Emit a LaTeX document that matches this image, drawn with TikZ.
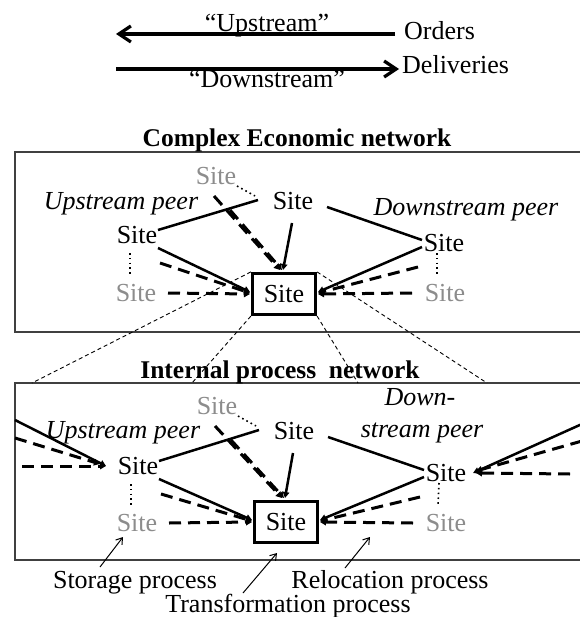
\documentclass[tikz,border=0pt]{standalone}
\usepackage{fontspec}
\setmainfont{Liberation Serif}
\usetikzlibrary{arrows.meta}
\definecolor{ghostgray}{HTML}{8C8C8C}
\definecolor{framegray}{HTML}{404040}

\begin{document}
\begin{tikzpicture}[
    x=1pt, y=-1pt,
    txt/.style={font=\fontsize{26}{28}\selectfont, inner sep=0pt},
    ttl/.style={font=\fontsize{25.5}{28}\selectfont\bfseries, inner sep=0pt},
    peer/.style={font=\fontsize{26}{28}\selectfont\itshape, inner sep=0pt},
    site/.style={font=\fontsize{26}{28}\selectfont, text height=17pt, text depth=0pt, inner sep=1pt},
    ghost/.style={site, text=ghostgray},
    hub/.style={site, draw, line width=3.2pt, minimum width=63pt, minimum height=41pt},
    link/.style={line width=2.5pt},
    dlink/.style={line width=3pt, dash pattern=on 12pt off 7pt},
    dots/.style={line width=1.6pt, dash pattern=on 1.6pt off 3.2pt},
    tip/.style={-{Triangle[length=6pt,width=6.5pt]}},
    zoomline/.style={line width=0.9pt, dash pattern=on 4pt off 3pt},
    frame/.style={draw=framegray, line width=1.3pt},
    flow/.style={line width=3.2pt, -{Straight Barb[length=12pt,width=16pt]}},
    note/.style={line width=1pt, -{Straight Barb[length=6pt,width=8pt]}}
]
\useasboundingbox (0,0) rectangle (579,617);

% orders and deliveries
\node[txt, anchor=base west] (orders) at (404,40) {Orders};
\node[txt, anchor=base west] (deliv) at (402,74) {Deliveries};
\node[txt, anchor=base] (upl) at (267,32) {``Upstream''};
\node[txt, anchor=base] (dnl) at (267,88) {``Downstream''};
\coordinate (upend) at (116,34);
\coordinate (dnstart) at (116,69);
\draw[flow, shorten <=9pt] (orders.west |- upend) -- (upend);
\draw[flow, shorten >=3pt] (dnstart) -- (deliv.west |- dnstart);

% frames
\draw[frame] (15,152) rectangle (585,332);
\draw[frame] (15,383) rectangle (585,560);
\node[ttl, anchor=base] (cen) at (297,147) {Complex Economic network};
\node[ttl, anchor=base] (ipn) at (280,378) {Internal process~ network};

% complex economic network
\node[ghost] (g1) at (216,176) {Site};
\node[site] (t1) at (293,201) {Site};
\node[site] (l1) at (137,235) {Site};
\node[site] (r1) at (444,243) {Site};
\node[ghost] (gl1) at (136,293) {Site};
\node[ghost] (gr1) at (445,293) {Site};
\node[hub] (c1) at (284,294) {Site};
\node[peer, anchor=base] (up1) at (121,210) {Upstream peer};
\node[peer, anchor=base] (dn1) at (466,216) {Downstream peer};

\draw[link] ([shift={(21,-5)}]l1.center) -- ([shift={(-35,-1)}]t1.center);
\draw[dots] ([shift={(21,10)}]g1.center) -- ([shift={(-38,-5)}]t1.center);
\draw[dlink, tip] ([shift={(-2,20)}]g1.center) -- ([shift={(-4,-24)}]c1.center);
\draw[dlink, tip] ([shift={(14,34)}]g1.center) -- ([shift={(-2,-24)}]c1.center);
\draw[link, tip] ([shift={(-1,22)}]t1.center) -- ([shift={(-1,-24)}]c1.center);
\draw[link] ([shift={(34,6)}]t1.center) -- ([shift={(-22,-3)}]r1.center);
\draw[link, tip] ([shift={(21,13)}]l1.center) -- ([shift={(-34,-2)}]c1.center);
\draw[dlink, tip] ([shift={(23,28)}]l1.center) -- ([shift={(-34,-1)}]c1.center);
\draw[dlink, tip] ([shift={(32,0)}]gl1.center) -- ([shift={(-34,0)}]c1.center);
\draw[link, tip] ([shift={(-22,4)}]r1.center) -- ([shift={(34,-2)}]c1.center);
\draw[dlink, tip] ([shift={(-26,24)}]r1.center) -- ([shift={(34,-1)}]c1.center);
\draw[dlink, tip] ([shift={(-33,0)}]gr1.center) -- ([shift={(34,0)}]c1.center);
\draw[dots] ([shift={(-7,18)}]l1.center) -- ([shift={(-6,-18)}]gl1.center);
\draw[dots] ([shift={(-7,10)}]r1.center) -- ([shift={(-8,-18)}]gr1.center);

% zoom into the site
\coordinate (z1) at (32,383);
\coordinate (z2) at (192,383);
\coordinate (z3) at (358,383);
\coordinate (z4) at (487,383);
\draw[zoomline] (c1.north west) -- (z1);
\draw[zoomline] (c1.south west) -- (z2);
\draw[zoomline] (c1.south east) -- (z3);
\draw[zoomline] (c1.north east) -- (z4);

% internal process network
\node[ghost] (g2) at (217,406) {Site};
\node[site] (t2) at (294,431) {Site};
\node[site] (l2) at (138,466) {Site};
\node[site] (r2) at (446,473) {Site};
\node[ghost] (gl2) at (137,523) {Site};
\node[ghost] (gr2) at (446,523) {Site};
\node[hub] (c2) at (286,522) {Site};
\node[peer, anchor=base] (up2) at (123,438) {Upstream peer};
\node[peer, anchor=base] (dn2) at (420,405) {Down-};
\node[peer, anchor=base] (dn2b) at (422,437) {stream peer};

\draw[link] ([shift={(21,-5)}]l2.center) -- ([shift={(-35,-1)}]t2.center);
\draw[dots] ([shift={(21,10)}]g2.center) -- ([shift={(-38,-5)}]t2.center);
\draw[dlink, tip] ([shift={(-2,20)}]g2.center) -- ([shift={(-4,-24)}]c2.center);
\draw[dlink, tip] ([shift={(14,34)}]g2.center) -- ([shift={(-2,-24)}]c2.center);
\draw[link, tip] ([shift={(-1,22)}]t2.center) -- ([shift={(-1,-24)}]c2.center);
\draw[link] ([shift={(34,6)}]t2.center) -- ([shift={(-22,-3)}]r2.center);
\draw[link, tip] ([shift={(21,13)}]l2.center) -- ([shift={(-34,-2)}]c2.center);
\draw[dlink, tip] ([shift={(23,28)}]l2.center) -- ([shift={(-34,-1)}]c2.center);
\draw[dlink, tip] ([shift={(32,0)}]gl2.center) -- ([shift={(-34,0)}]c2.center);
\draw[link, tip] ([shift={(-22,4)}]r2.center) -- ([shift={(34,-2)}]c2.center);
\draw[dlink, tip] ([shift={(-26,24)}]r2.center) -- ([shift={(34,-1)}]c2.center);
\draw[dlink, tip] ([shift={(-33,0)}]gr2.center) -- ([shift={(34,0)}]c2.center);
\draw[dots] ([shift={(-7,18)}]l2.center) -- ([shift={(-6,-18)}]gl2.center);
\draw[dots] ([shift={(-7,10)}]r2.center) -- ([shift={(-8,-18)}]gr2.center);

% links leaving the frame
\coordinate (w1) at (15,420);
\coordinate (w2) at (15,438);
\coordinate (w3) at (22,466);
\coordinate (e1) at (582,424);
\coordinate (e2) at (582,441);
\coordinate (e3) at (570,474);
\draw[link, tip] (w1) -- ([shift={(-32,0)}]l2.center);
\draw[dlink, tip] (w2) -- ([shift={(-38,-2)}]l2.center);
\draw[dlink, tip] (w3) -- ([shift={(-32,0)}]l2.center);
\draw[link, tip] (e1) -- ([shift={(27,0)}]r2.center);
\draw[dlink, tip] (e2) -- ([shift={(30,-2)}]r2.center);
\draw[dlink, tip] (e3) -- ([shift={(30,0)}]r2.center);

% process labels
\node[txt, anchor=base] (stor) at (135,588) {Storage process};
\node[txt, anchor=base] (trans) at (288,612) {Transformation process};
\node[txt, anchor=base] (reloc) at (390,588) {Relocation process};
\draw[note] ([shift={(-35,-21)}]stor.base) -- ([shift={(-14,14)}]gl2.center);
\draw[note] ([shift={(-45,-19)}]trans.base) -- ([shift={(-9,31)}]c2.center);
\draw[note] ([shift={(-45,-20)}]reloc.base) -- ([shift={(84,15)}]c2.center);
\end{tikzpicture}
\end{document}
